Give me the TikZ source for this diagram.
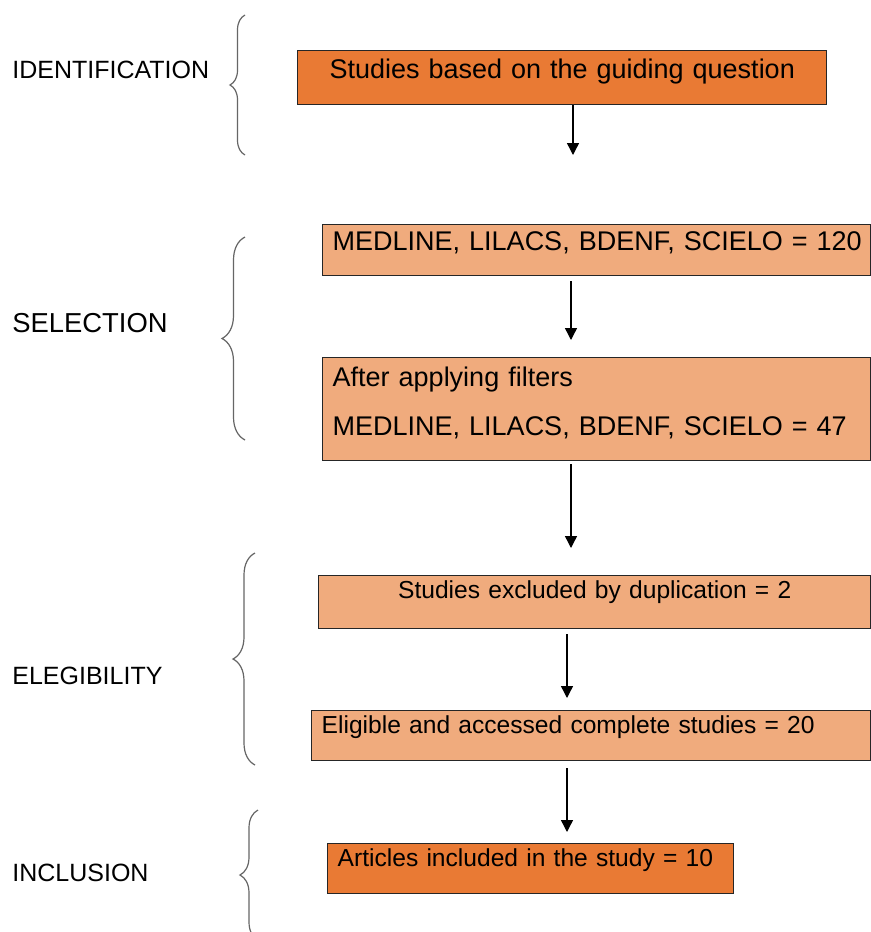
\documentclass[tikz,border=0pt]{standalone}
\usepackage{fontspec}
\setmainfont{Liberation Sans}
\usetikzlibrary{arrows.meta,decorations.pathreplacing}
\definecolor{orgdark}{HTML}{E97A34}
\definecolor{orglight}{HTML}{F0AB7D}
\tikzset{
  box/.style={draw=black!85, line width=0.7pt, fill=orglight, anchor=north west, align=left,
              inner xsep=5pt, inner ysep=0pt, font=\fontsize{13.5}{24.5}\selectfont},
  keybox/.style={box, fill=orgdark},
  small/.style={font=\fontsize{12.3}{15}\selectfont},
  phase/.style={anchor=west, inner sep=0pt, font=\fontsize{12.5}{15}\selectfont},
  sig/.style={-{Triangle[length=6pt,width=6pt]}, line width=0.7pt, draw=black},
  brc/.style={decorate, decoration={brace, amplitude=#1}, draw=black!60, line width=0.6pt},
  brc/.default=10pt,
}

\begin{document}
\begin{tikzpicture}[x=0.5pt, y=-0.5pt]
    \fill[white] (0,0) rectangle (871,932);
    \useasboundingbox (0,0) rectangle (871,932);
    % phases on the left
    \node[phase] (lid) at (12,70) {IDENTIFICATION};
    \node[phase, font=\fontsize{13.7}{16}\selectfont] (lsel) at (12,323) {SELECTION};
    \node[phase] (lelig) at (12,676) {ELEGIBILITY};
    \node[phase] (lincl) at (12,873) {INCLUSION};
    \draw[brc=7.5pt] (245,155) -- (245,15);
    \draw[brc=11.5pt] (245,440) -- (245,237);
    \draw[brc=11pt] (255,765) -- (255,553);
    \draw[brc=9pt] (258,940) -- (258,810);
    % flow boxes
    \node[keybox, align=center, text width=254.5pt, text height=14pt, text depth=13pt] (ident) at (297,50)
      {Studies based on the guiding question};
    \node[box, text width=264pt, text height=13pt, text depth=12.5pt] (sel1) at (322,224)
      {\mbox{MEDLINE, LILACS, BDENF, SCIELO = 120}};
    \node[box, text width=264pt, text height=14.5pt, text depth=37pt] (sel2) at (322,357)
      {After applying filters\\ MEDLINE, LILACS, BDENF, SCIELO = 47};
    \node[box, small, align=center, text width=266pt, text height=11.5pt, text depth=15pt] (elig1) at (318,575)
      {Studies excluded by duplication = 2};
    \node[box, small, text width=269.5pt, text height=11.5pt, text depth=13.5pt] (elig2) at (311,710)
      {Eligible and accessed complete studies = 20};
    \node[keybox, small, text width=193pt, text height=11.5pt, text depth=13.5pt] (incl) at (327,843)
      {Articles included in the study = 10};
    % arrow tips
    \coordinate (t1) at (573,155);
    \coordinate (t2) at (571,340);
    \coordinate (t3) at (571,548);
    \coordinate (t4) at (567,698);
    \coordinate (t5) at (567,832);
    \draw[sig] (ident.south -| t1) -- (t1);
    \draw[sig, shorten <=2.5pt] (sel1.south -| t2) -- (t2);
    \draw[sig, shorten <=1.5pt] (sel2.south -| t3) -- (t3);
    \draw[sig, shorten <=2.5pt] (elig1.south -| t4) -- (t4);
    \draw[sig, shorten <=3.5pt] (elig2.south -| t5) -- (t5);
  \end{tikzpicture}
\end{document}
